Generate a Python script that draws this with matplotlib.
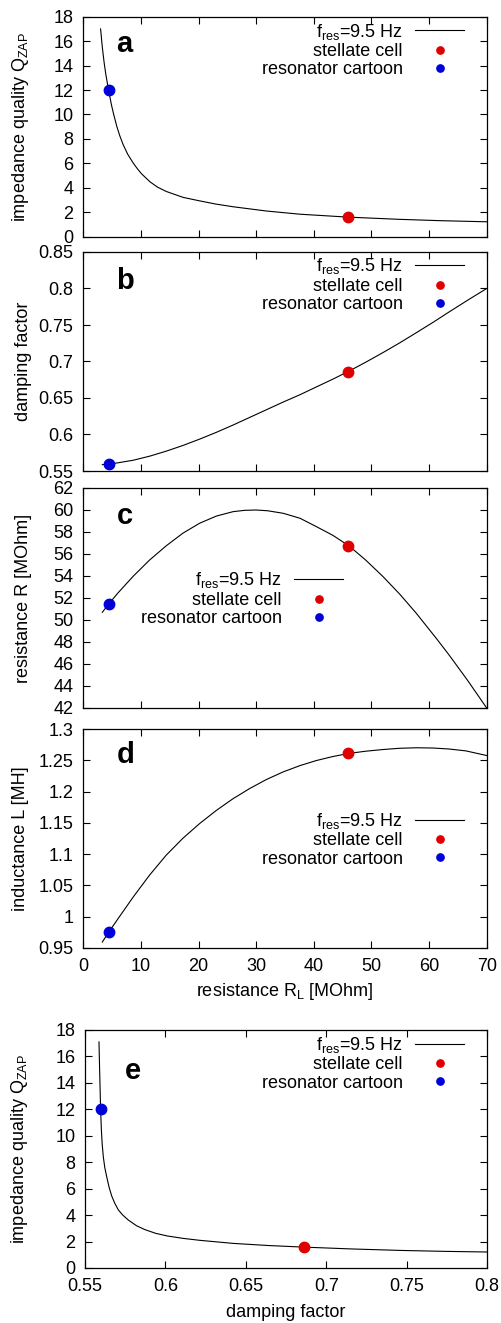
import matplotlib
matplotlib.use("Agg")
import matplotlib.pyplot as plt
from matplotlib.ticker import MultipleLocator, FuncFormatter

plt.rcParams['font.family'] = ['Liberation Sans', 'DejaVu Sans']
plt.rcParams['mathtext.default'] = 'regular'
plt.rcParams['font.size'] = 13

# panel a: impedance quality vs R_L
a_rl = [3.0, 3.3, 3.6, 3.9, 4.4, 4.9, 5.3, 5.8, 6.3, 6.9, 7.7, 8.7, 9.4,
        10.1, 11.6, 12.9, 14.4, 17.3, 20.2, 23.0, 26.0, 31.8, 37.6, 46.0,
        54.9, 62.0, 70.0]
a_q = [17.0, 15.5, 14.3, 13.3, 11.95, 10.75, 9.95, 9.05, 8.3, 7.55, 6.75,
       6.0, 5.55, 5.15, 4.48, 4.05, 3.7, 3.22, 2.93, 2.67, 2.45, 2.1, 1.84,
       1.6, 1.42, 1.31, 1.22]

# panel b: damping factor vs R_L
b_rl = [3.3, 4.4, 6.0, 8.7, 11.6, 14.4, 17.3, 20.2, 23.1, 26.0, 28.9, 31.8,
        34.7, 37.6, 40.4, 43.3, 46.1, 49.0, 52.0, 54.9, 57.8, 60.7, 63.5,
        66.7, 70.0]
b_damp = [0.5587, 0.5594, 0.5612, 0.5648, 0.5705, 0.5772, 0.585, 0.5937,
          0.603, 0.613, 0.6235, 0.634, 0.6445, 0.6545, 0.665, 0.6758,
          0.6868, 0.699, 0.7122, 0.7255, 0.7395, 0.7537, 0.768, 0.784, 0.80]

# panel c: resistance R vs R_L
c_rl = [3.3, 4.4, 6.0, 8.7, 11.5, 14.4, 17.3, 20.2, 23.1, 26.0, 28.0, 30.0,
        32.0, 34.7, 37.6, 40.4, 43.3, 46.2, 49.0, 52.0, 55.0, 57.8, 61.3,
        63.5, 66.7, 70.0]
c_r = [50.7, 51.45, 52.45, 54.0, 55.45, 56.75, 57.9, 58.8, 59.45, 59.85,
       59.97, 60.0, 59.93, 59.7, 59.25, 58.5, 57.7, 56.7, 55.45, 53.95,
       52.3, 50.6, 48.3, 46.8, 44.5, 42.0]

# panel d: inductance L vs R_L
d_rl = [3.3, 4.4, 6.0, 8.7, 11.5, 14.4, 17.3, 20.2, 23.1, 26.0, 28.9, 31.8,
        34.7, 37.6, 40.4, 43.3, 46.1, 49.0, 52.0, 54.9, 57.8, 60.7, 63.5,
        66.4, 70.0]
d_l = [0.9596, 0.975, 0.9965, 1.032, 1.0665, 1.0985, 1.1255, 1.149, 1.17,
       1.1887, 1.205, 1.2194, 1.2315, 1.2415, 1.2495, 1.256, 1.261, 1.2645,
       1.2672, 1.2692, 1.27, 1.2696, 1.268, 1.265, 1.2576]

# panel e: impedance quality vs damping factor
e_damp = [0.5587, 0.5589, 0.5591, 0.5594, 0.5597, 0.5602, 0.5607, 0.5614,
          0.5623, 0.5635, 0.565, 0.5666, 0.5685, 0.5707, 0.5735, 0.5769,
          0.582, 0.5873, 0.594, 0.6013, 0.611, 0.6216, 0.6423, 0.664, 0.686,
          0.716, 0.746, 0.773, 0.80]
e_q = [17.1, 16.0, 15.0, 13.5, 12.0, 10.4, 9.35, 8.4, 7.6, 6.9, 6.1, 5.45,
       4.9, 4.4, 4.0, 3.63, 3.2, 2.9, 2.62, 2.42, 2.24, 2.09, 1.86, 1.7,
       1.58, 1.44, 1.33, 1.26, 1.21]

# the two cells: stellate cell, resonator cartoon
cell_rl = [46.0, 4.4]
cell_q = [1.6, 12.0]
cell_damp = [0.686, 0.5597]
cell_r = [56.7, 51.45]
cell_l = [1.261, 0.976]
cell_names = ['stellate cell', 'resonator cartoon']
cell_colors = ['#e00000', '#0000d8']

line_label = '$f_{res}$=9.5 Hz'
fmt = FuncFormatter(lambda v, p: '%g' % round(v, 4))

fig = plt.figure(figsize=(5.01, 13.23), dpi=100)
H = 1323.0
W = 501.0


def make_axes(left, top, right, bottom):
    return fig.add_axes([left / W, 1 - bottom / H, (right - left) / W, (bottom - top) / H])


def style(ax, xstep, ystep):
    ax.xaxis.set_major_locator(MultipleLocator(xstep))
    ax.yaxis.set_major_locator(MultipleLocator(ystep))
    ax.xaxis.set_major_formatter(fmt)
    ax.yaxis.set_major_formatter(fmt)
    ax.tick_params(direction='in', length=5, width=0.8, top=True, right=True,
                   labelsize=13)
    ax.tick_params(axis='y', pad=7)
    ax.tick_params(axis='x', pad=7)
    for s in ax.spines.values():
        s.set_linewidth(0.9)


def draw(ax, xs, ys, cx, cy, letter, lx, ly, leg_anchor):
    ax.plot(xs, ys, color='black', lw=0.8, label=line_label)
    for x, y, n, c in zip(cx, cy, cell_names, cell_colors):
        ax.plot([x], [y], 'o', color=c, ms=7.5, label=n, clip_on=False)
    ax.text(lx, ly, letter, transform=ax.transAxes, fontsize=21,
            fontweight='bold', va='baseline')
    ax.legend(loc='upper right', bbox_to_anchor=leg_anchor, frameon=False,
              markerfirst=False, handlelength=2.7, handletextpad=0.7,
              labelspacing=0.08, borderpad=0, borderaxespad=0, markerscale=0.7,
              numpoints=1, fontsize=13)


ax_a = make_axes(83.3, 16.7, 486.7, 236.7)
ax_b = make_axes(83.3, 252, 486.7, 471)
ax_c = make_axes(83.3, 488, 486.7, 708)
ax_d = make_axes(83.3, 729, 486.7, 948)
ax_e = make_axes(85, 1030, 487, 1268)

draw(ax_a, a_rl, a_q, cell_rl, cell_q, 'a', 0.082, 0.84, (0.944, 0.978))
ax_a.set_ylim(0, 18)
ax_a.set_ylabel('impedance quality Q$_{ZAP}$')
style(ax_a, 10, 2)

draw(ax_b, b_rl, b_damp, cell_rl, cell_damp, 'b', 0.082, 0.83, (0.944, 0.98))
ax_b.set_ylim(0.55, 0.85)
ax_b.set_ylabel('damping factor')
style(ax_b, 10, 0.05)

draw(ax_c, c_rl, c_r, cell_rl, cell_r, 'c', 0.082, 0.836, (0.644, 0.625))
ax_c.set_ylim(42, 62)
ax_c.set_ylabel('resistance R [MOhm]')
style(ax_c, 10, 2)

draw(ax_d, d_rl, d_l, cell_rl, cell_l, 'd', 0.082, 0.845, (0.944, 0.626))
ax_d.set_ylim(0.95, 1.3)
ax_d.set_ylabel('inductance L [MH]')
ax_d.set_xlabel('resistance R$_L$ [MOhm]')
style(ax_d, 10, 0.05)

for ax in (ax_a, ax_b, ax_c, ax_d):
    ax.set_xlim(0, 70)
for ax in (ax_a, ax_b, ax_c):
    ax.tick_params(labelbottom=False)

draw(ax_e, e_damp, e_q, cell_damp, cell_q, 'e', 0.10, 0.794, (0.943, 0.9795))
ax_e.set_xlim(0.55, 0.8)
ax_e.set_ylim(0, 18)
ax_e.set_ylabel('impedance quality Q$_{ZAP}$')
ax_e.set_xlabel('damping factor')
style(ax_e, 0.05, 2)

ax_a.yaxis.set_label_coords(-0.13, 0.5)
ax_b.yaxis.set_label_coords(-0.128, 0.5)
ax_c.yaxis.set_label_coords(-0.128, 0.5)
ax_d.yaxis.set_label_coords(-0.134, 0.5)
ax_e.yaxis.set_label_coords(-0.137, 0.5)
ax_d.xaxis.set_label_coords(0.5, -0.15)
ax_e.xaxis.set_label_coords(0.5, -0.15)

fig.savefig('out.png', dpi=100)
